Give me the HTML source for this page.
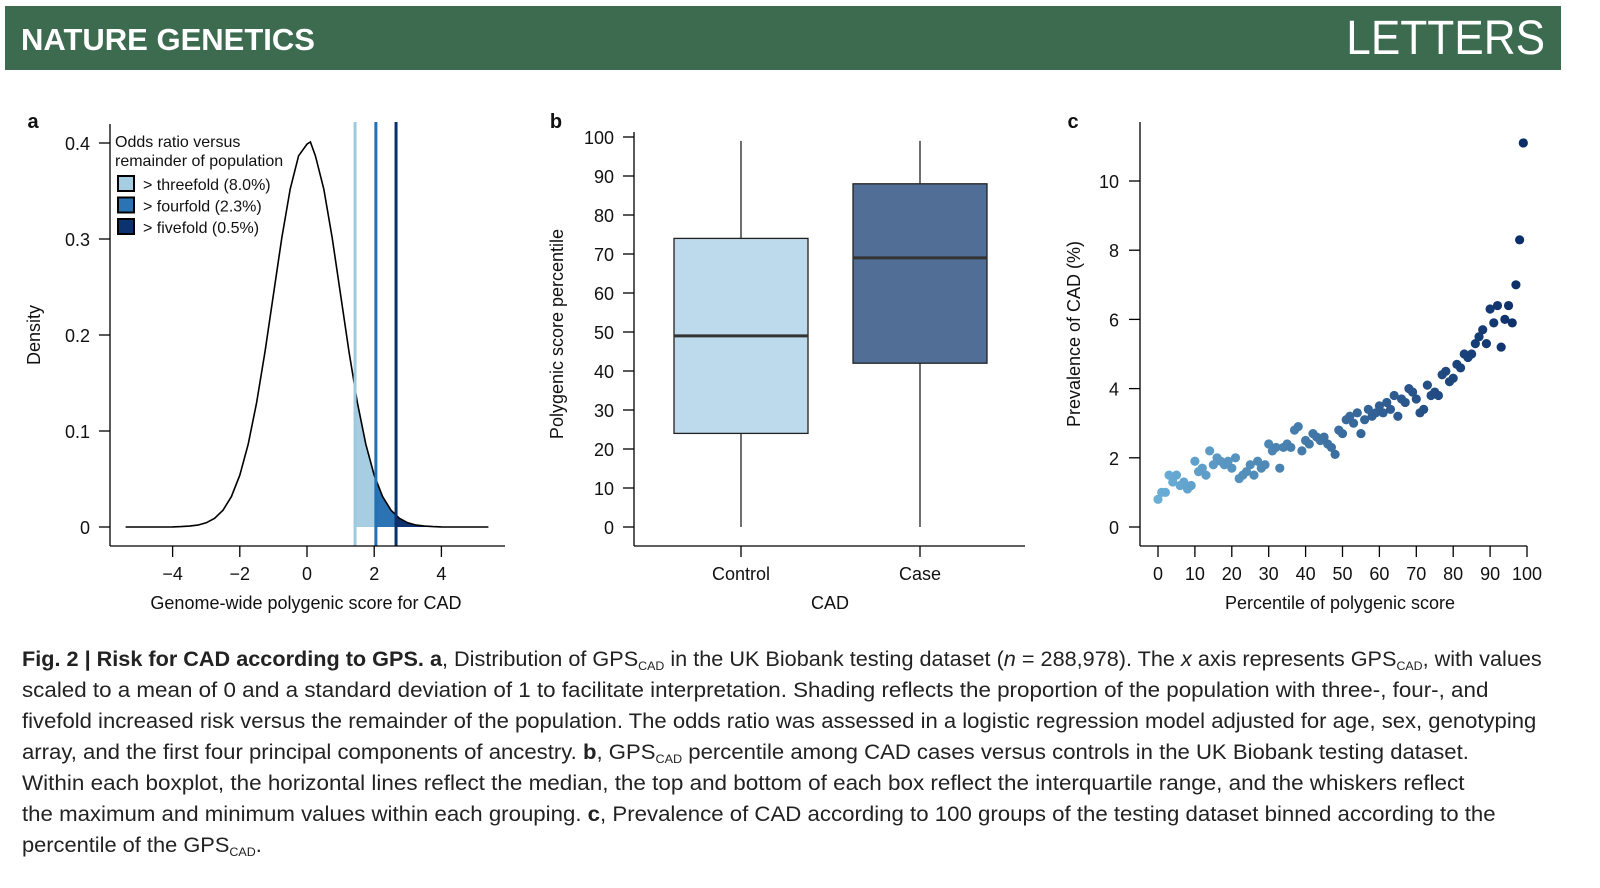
<!DOCTYPE html>
<html><head><meta charset="utf-8">
<style>
body{margin:0;width:1600px;height:888px;background:#fff;position:relative;overflow:hidden;font-family:"Liberation Sans",sans-serif;}
.hdr{position:absolute;left:5px;top:6px;width:1556px;height:64px;background:#3d6b50;}
.cap{position:absolute;left:22px;font-size:21px;color:#222;white-space:nowrap;transform-origin:0 0;}
.cap sub{font-size:12px;vertical-align:-4px;line-height:0}
svg text{font-family:"Liberation Sans",sans-serif;fill:#111}
</style></head><body>
<div class="hdr">
<div style="position:absolute;left:16px;top:16px;color:#fff;font-weight:bold;font-size:31px;">NATURE GENETICS</div>
<div style="position:absolute;right:16px;top:5px;color:#fff;font-size:48px;transform:scaleX(0.92);transform-origin:100% 0">LETTERS</div>
</div>
<svg id="fig" width="1600" height="640" style="position:absolute;left:0;top:0"></svg>
<div class="cap" data-w="1520" style="top:648px"><b>Fig. 2 | Risk for CAD according to GPS. a</b>, Distribution of GPS<sub>CAD</sub> in the UK Biobank testing dataset (<i>n</i> = 288,978). The <i>x</i> axis represents GPS<sub>CAD</sub>, with values</div>
<div class="cap" data-w="1466" style="top:679px">scaled to a mean of 0 and a standard deviation of 1 to facilitate interpretation. Shading reflects the proportion of the population with three-, four-, and</div>
<div class="cap" data-w="1514" style="top:710px">fivefold increased risk versus the remainder of the population. The odds ratio was assessed in a logistic regression model adjusted for age, sex, genotyping</div>
<div class="cap" data-w="1447" style="top:741px">array, and the first four principal components of ancestry. <b>b</b>, GPS<sub>CAD</sub> percentile among CAD cases versus controls in the UK Biobank testing dataset.</div>
<div class="cap" data-w="1442" style="top:772px">Within each boxplot, the horizontal lines reflect the median, the top and bottom of each box reflect the interquartile range, and the whiskers reflect</div>
<div class="cap" data-w="1474" style="top:803px">the maximum and minimum values within each grouping. <b>c</b>, Prevalence of CAD according to 100 groups of the testing dataset binned according to the</div>
<div class="cap" data-w="240" style="top:834px">percentile of the GPS<sub>CAD</sub>.</div>
<script>
// Panel a data
const densX=[-5.4,-5,-4.5,-4,-3.75,-3.5,-3.25,-3,-2.75,-2.5,-2.25,-2,-1.75,-1.5,-1.25,-1,-0.75,-0.5,-0.25,0,0.1,0.25,0.5,0.75,1,1.25,1.5,1.75,2,2.25,2.5,2.75,3,3.25,3.5,3.75,4,4.5,5,5.4];
const densY=[0,0,0,0.0001,0.0004,0.0009,0.002,0.0044,0.0091,0.0175,0.0317,0.054,0.0863,0.1295,0.1826,0.242,0.3011,0.3521,0.3867,0.3989,0.401,0.3867,0.3521,0.3011,0.242,0.1826,0.1295,0.0863,0.054,0.0317,0.0175,0.0091,0.0044,0.002,0.0009,0.0004,0.0001,0,0,0];
const thresholds=[1.43,2.05,2.65];
const thresholdLabels=["> threefold (8.0%)","> fourfold (2.3%)","> fivefold (0.5%)"];
const aXTicks=[-4,-2,0,2,4];
const aYTicks=[0,0.1,0.2,0.3,0.4];
// Panel b data
const groups=["Control","Case"];
const bMin=[0,0],bQ1=[24,42],bMed=[49,69],bQ3=[74,88],bMax=[99,99];
const bYTicks=[0,10,20,30,40,50,60,70,80,90,100];
// Panel c data
const prevalence=[0.8,1.0,1.0,1.5,1.3,1.5,1.2,1.3,1.1,1.2,1.9,1.6,1.7,1.5,2.2,1.8,2.0,1.9,1.8,1.9,1.7,2.0,1.4,1.5,1.6,1.8,1.5,1.9,1.7,1.8,2.4,2.2,2.3,1.7,2.3,2.4,2.3,2.8,2.9,2.2,2.5,2.4,2.7,2.6,2.5,2.6,2.4,2.3,2.1,2.8,2.7,3.1,3.2,3.0,3.3,2.7,3.1,3.4,3.2,3.3,3.5,3.3,3.6,3.4,3.8,3.2,3.7,3.6,4.0,3.9,3.7,3.3,3.4,4.1,3.8,3.9,3.8,4.4,4.5,4.2,4.3,4.7,4.6,5.0,4.9,5.0,5.3,5.5,5.7,5.3,6.3,5.9,6.4,5.2,6.0,6.4,5.9,7.0,8.3,11.1];
const cXTicks=[0,10,20,30,40,50,60,70,80,90,100];
const cYTicks=[0,2,4,6,8,10];

const NS="http://www.w3.org/2000/svg";
const svg=document.getElementById('fig');
function el(tag,attrs,parent){const e=document.createElementNS(NS,tag);for(const k in attrs)e.setAttribute(k,attrs[k]);(parent||svg).appendChild(e);return e;}
function txt(x,y,s,size,anchor,extra){const t=el('text',Object.assign({x:x,y:y,'font-size':size,'text-anchor':anchor||'middle'},extra||{}));t.textContent=s;return t;}

// ---------- Panel a ----------
const ax=v=>307+v*33.6, ay=v=>527-v*960;
const ga=el('g',{});
let t=txt(33,128,'a',20,'middle',{'font-weight':'bold'});
const shadeCols=['#a6cde2','#2b73b3','#0d3270'];
function dens(x){for(let i=0;i<densX.length-1;i++){if(x>=densX[i]&&x<=densX[i+1]){const f=(x-densX[i])/(densX[i+1]-densX[i]);return densY[i]+f*(densY[i+1]-densY[i]);}}return 0;}
for(let k=0;k<3;k++){const lo=thresholds[k],hi=k<2?thresholds[k+1]:5.4;let d='M'+ax(lo)+','+ay(0);for(let x=lo;x<=hi+1e-9;x+=0.02)d+=' L'+ax(x)+','+ay(dens(x));d+=' L'+ax(hi)+','+ay(0)+'Z';
 const p=el('path',{d:d,fill:shadeCols[k]},ga);}
let cd='';densX.forEach((x,i)=>{cd+=(i?' L':'M')+ax(x).toFixed(1)+','+ay(densY[i]).toFixed(1);});
let cp=el('path',{d:cd,fill:'none',stroke:'#000','stroke-width':1.6},ga);
const lineCols=['#9ecae1','#2171b5','#08306b'];
thresholds.forEach((v,k)=>{const l=el('line',{x1:ax(v),x2:ax(v),y1:122,y2:546,stroke:lineCols[k],'stroke-width':3},ga);});
el('line',{x1:110,x2:110,y1:124,y2:546,stroke:'#000','stroke-width':1.3},ga);
el('line',{x1:110,x2:505,y1:546,y2:546,stroke:'#000','stroke-width':1.3},ga);
aYTicks.forEach(v=>{el('line',{x1:99,x2:110,y1:ay(v),y2:ay(v),stroke:'#000','stroke-width':1.3},ga);const tt=txt(90,ay(v)+7,String(v),18,'end');});
aXTicks.forEach(v=>{el('line',{x1:ax(v),x2:ax(v),y1:546,y2:557,stroke:'#000','stroke-width':1.3},ga);const tt=txt(ax(v),580,v<0?'\u2212'+(-v):String(v),18);});
t=txt(306,609,'Genome-wide polygenic score for CAD',18);
t=txt(40,335,'Density',18,'middle',{transform:'rotate(-90 40 335)'});
t=txt(115,147,'Odds ratio versus',16,'start');
txt(115,166,'remainder of population',16,'start');
thresholdLabels.forEach((s,k)=>{const y=184+k*21.5;const r=el('rect',{x:118,y:y-8,width:16,height:15,fill:shadeCols[k],stroke:'#000','stroke-width':2},ga);const tt=txt(143,y+6,s,16,'start');});

// ---------- Panel b ----------
const by=v=>527-v*3.9;
t=txt(556,128,'b',20,'middle',{'font-weight':'bold'});
const bx=[741,920],bw=134,bCols=['#bcdaeb','#506e96'];
groups.forEach((g,i)=>{
 const w=el('line',{x1:bx[i],x2:bx[i],y1:by(bMin[i]),y2:by(bMax[i]),stroke:'#222','stroke-width':1.3});
 const r=el('rect',{x:bx[i]-bw/2,y:by(bQ3[i]),width:bw,height:by(bQ1[i])-by(bQ3[i]),fill:bCols[i],stroke:'#222','stroke-width':1.3});
 const m=el('line',{x1:bx[i]-bw/2,x2:bx[i]+bw/2,y1:by(bMed[i]),y2:by(bMed[i]),stroke:'#333','stroke-width':3});
 el('line',{x1:bx[i],x2:bx[i],y1:546,y2:557,stroke:'#000','stroke-width':1.3});
 const tt=txt(bx[i],580,g,18);
});
el('line',{x1:634,x2:634,y1:132,y2:546,stroke:'#000','stroke-width':1.3});
el('line',{x1:634,x2:1025,y1:546,y2:546,stroke:'#000','stroke-width':1.3});
bYTicks.forEach(v=>{el('line',{x1:623,x2:634,y1:by(v),y2:by(v),stroke:'#000','stroke-width':1.3});const tt=txt(614,by(v)+7,String(v),18,'end');});
t=txt(830,609,'CAD',18);
t=txt(563,334,'Polygenic score percentile',18,'middle',{transform:'rotate(-90 563 334)'});

// ---------- Panel c ----------
const cx=v=>1158+v*3.69, cy=v=>527-v*34.6;
t=txt(1073,128,'c',20,'middle',{'font-weight':'bold'});
el('line',{x1:1140,x2:1140,y1:122,y2:546,stroke:'#000','stroke-width':1.3});
el('line',{x1:1140,x2:1527,y1:546,y2:546,stroke:'#000','stroke-width':1.3});
cYTicks.forEach(v=>{el('line',{x1:1129,x2:1140,y1:cy(v),y2:cy(v),stroke:'#000','stroke-width':1.3});const tt=txt(1119,cy(v)+7,String(v),18,'end');});
cXTicks.forEach(v=>{el('line',{x1:cx(v),x2:cx(v),y1:546,y2:557,stroke:'#000','stroke-width':1.3});const tt=txt(cx(v),580,String(v),18);});
function lerpCol(a,b,f){const pa=a.match(/\w\w/g).map(h=>parseInt(h,16)),pb=b.match(/\w\w/g).map(h=>parseInt(h,16));return 'rgb('+pa.map((c,i)=>Math.round(c+(pb[i]-c)*f)).join(',')+')';}
prevalence.forEach((v,i)=>{const c=el('circle',{cx:cx(i),cy:cy(v),r:4.6,fill:lerpCol('6aaed6','0b2d68',i/99)});});
t=txt(1340,609,'Percentile of polygenic score',18);
t=txt(1080,334,'Prevalence of CAD (%)',18,'middle',{transform:'rotate(-90 1080 334)'});

// caption fitting
document.querySelectorAll('.cap').forEach(d=>{const w=+d.getAttribute('data-w');d.style.transform='scaleX('+(w/d.scrollWidth)+')';});
</script>
</body></html>
